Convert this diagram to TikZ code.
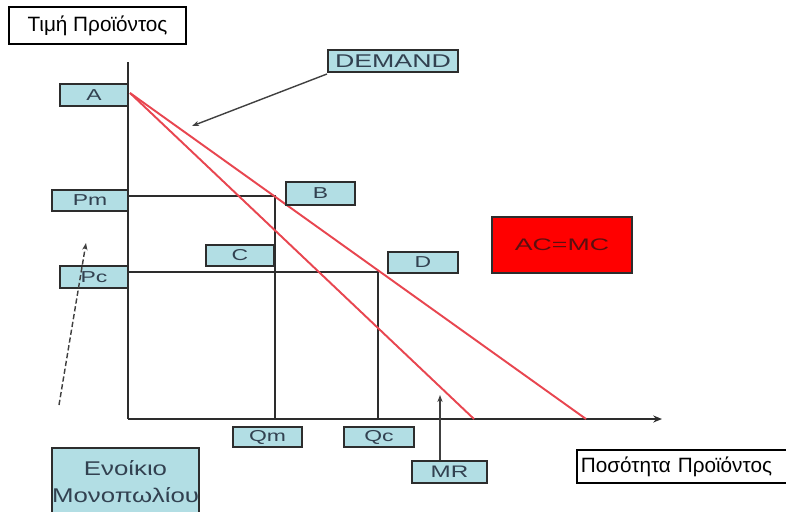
\documentclass[tikz,border=0pt]{standalone}
\usepackage{fontspec}
\setmainfont{Liberation Sans}
\newfontfamily\boxfont[FakeStretch=1.45]{Liberation Sans}
\newfontfamily\rentfont[FakeStretch=1.3]{Liberation Sans}
\newfontfamily\acfont[FakeStretch=1.6]{Liberation Sans}
\usetikzlibrary{arrows.meta}
\definecolor{boxblue}{RGB}{178,222,228}
\definecolor{axisgray}{RGB}{45,45,45}
\definecolor{labelgray}{RGB}{50,65,80}
\definecolor{curvered}{RGB}{232,70,80}
\definecolor{acred}{RGB}{255,0,0}
\newcommand{\px}{0.02cm}
\tikzset{
	sz/.style 2 args={minimum width=#1*\px, minimum height=#2*\px},
	lbl/.style={draw=axisgray, line width=1.1pt, fill=boxblue, text=labelgray, inner sep=0pt, font=\boxfont\fontsize{9pt}{10pt}\selectfont},
	titlebox/.style={draw=black, line width=0.9pt, fill=white, inner sep=0pt, font=\fontsize{11.8pt}{13pt}\selectfont},
	axis/.style={draw=axisgray, line width=1.4pt},
	guide/.style={draw=axisgray, line width=1.1pt},
	curve/.style={draw=curvered, line width=1.1pt},
	pointer/.style={draw=black!75, line width=0.8pt, -{Stealth[length=4pt,width=3pt]}}
}

\begin{document}
\begin{tikzpicture}[x=\px, y=-\px]
			%%%%% START %%%%%
			\useasboundingbox (0,0) rectangle (786,511);
			
			\coordinate (O) at (128, 419);
			\coordinate (ytop) at (128, 62);
			\coordinate (xend) at (662, 419);
			\coordinate (Apt) at (130, 93);
			\coordinate (Dend) at (586, 419);
			\coordinate (MRend) at (474, 419);
			
			\draw[axis] (ytop) -- (O);
			\draw[axis, -{Stealth[length=5pt,width=4pt]}] (O) -- (xend);
			
			\draw[guide] (128, 196) -- (275, 196) -- (275, 419);
			\draw[guide] (128, 272) -- (378, 272) -- (378, 419);
			
			\draw[curve] (Apt) -- (Dend);
			\draw[curve] (Apt) -- (MRend);
			
			\node[titlebox, sz={177}{37}] (price) at (97.5, 25.5) {Τιμή Προϊόντος};
			\node[titlebox, anchor=west, text width=230*\px, align=left, minimum height=33*\px, inner xsep=4*\px] (qty) at (576, 466.5) {Ποσότητα Προϊόντος};
			
			\node[lbl, sz={130}{22}, font=\boxfont\fontsize{10.5pt}{12pt}\selectfont] (demand) at (393, 61) {DEMAND};
			\node[lbl, sz={68}{22}] (A) at (94, 95) {A};
			\node[lbl, sz={76}{21}] (Pm) at (90, 200.5) {Pm};
			\node[lbl, sz={68}{22}] (Pc) at (94, 277) {Pc};
			\node[lbl, sz={69}{23}] (B) at (320.5, 193.5) {B};
			\node[lbl, sz={68}{21}] (C) at (240, 255.5) {C};
			\node[lbl, sz={70}{21}] (D) at (423, 262.5) {D};
			\node[lbl, sz={69}{20}] (Qm) at (267.5, 437) {Qm};
			\node[lbl, sz={70}{20}] (Qc) at (379, 437) {Qc};
			\node[lbl, sz={75}{22}, font=\boxfont\fontsize{9.5pt}{11pt}\selectfont] (MR) at (449.5, 472) {MR};
			
			\node[draw=axisgray, line width=1.1pt, fill=acred, text={rgb,255:red,90;green,15;blue,15}, sz={140}{56}, font=\acfont\fontsize{9.5pt}{11pt}\selectfont] (acmc) at (562, 245) {AC=MC};
			
			\node[lbl, anchor=north, sz={147}{67}, inner ysep=1*\px, align=center, font=\rentfont\fontsize{11.3pt}{15.3pt}\selectfont] (rent) at (125.5, 447) {Ενοίκιο\\Μονοπωλίου};
			
			\coordinate (demandtip) at (192, 126);
			\coordinate (MRtip) at (440, 395);
			\coordinate (rentfoot) at (59, 405);
			\coordinate (renttip) at (86, 243);
			
			\draw[pointer] (demand.south west) ++(0,1) -- (demandtip);
			\draw[pointer] (MR.north -| MRtip) -- (MRtip);
			\draw[pointer, dashed, dash pattern=on 3pt off 1.5pt] (rentfoot) -- (renttip);
			%%%%% END %%%%%
\end{tikzpicture}
\end{document}
